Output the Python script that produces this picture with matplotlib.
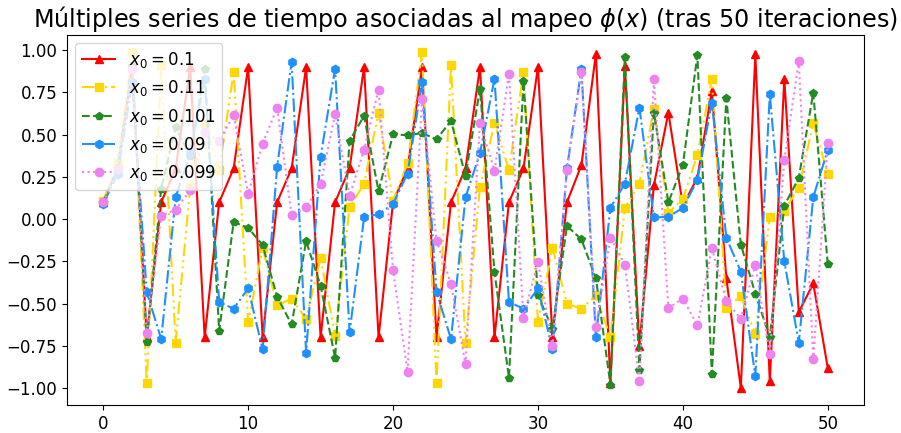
import numpy as np
import matplotlib
matplotlib.use("Agg")
import matplotlib.pyplot as plt

#Iteration index
t = np.arange(51)

#Orbits of the map for each starting value
serie_01 = [0.1, 0.3, 0.9, -0.7, 0.1, 0.3, 0.9, -0.7, 0.1, 0.3, 0.9, -0.7,
            0.1, 0.3, 0.9, -0.7, 0.1, 0.3, 0.9, -0.7, 0.1, 0.3, 0.9, -0.7,
            0.1, 0.3, 0.9, -0.7, 0.1, 0.3, 0.9, -0.7, 0.1, 0.32, 0.98, -0.97,
            0.905, -0.75, 0.2, 0.63, 0.08, 0.245, 0.76, -0.35, -1.0, 0.975,
            -0.96, 0.83, -0.55, -0.38, -0.88]
serie_011 = [0.11, 0.33, 0.99, -0.97, 0.91, -0.73, 0.19, 0.57, 0.29, 0.87,
             -0.61, -0.17, -0.51, -0.47, -0.59, -0.23, -0.69, 0.07, 0.21, 0.63,
             0.11, 0.33, 0.99, -0.97, 0.91, -0.73, 0.19, 0.57, 0.29, 0.87,
             -0.61, -0.17, -0.5, -0.53, -0.45, -0.7, 0.067, 0.21, 0.65, 0.037,
             0.12, 0.38, 0.83, -0.525, -0.456, -0.68, 0.012, 0.051, 0.185,
             0.568, 0.268]
serie_0101 = [0.101, 0.303, 0.909, -0.727, 0.181, 0.543, 0.371, 0.887, -0.661,
              -0.017, -0.051, -0.153, -0.459, -0.623, -0.131, -0.393, -0.821,
              0.463, 0.611, 0.167, 0.501, 0.497, 0.509, 0.473, 0.581, 0.257,
              0.771, -0.313, -0.939, 0.817, -0.451, -0.647, -0.04, -0.12,
              -0.35, -0.98, 0.96, -0.89, 0.63, 0.1, 0.32, 0.97, -0.915, 0.714,
              -0.15, -0.44, -0.7, 0.079, 0.245, 0.748, -0.268]
serie_009 = [0.09, 0.27, 0.81, -0.43, -0.71, 0.13, 0.39, 0.83, -0.49, -0.53,
             -0.41, -0.77, 0.31, 0.93, -0.79, 0.37, 0.89, -0.67, 0.01, 0.03,
             0.09, 0.27, 0.81, -0.43, -0.71, 0.13, 0.39, 0.83, -0.49, -0.53,
             -0.41, -0.77, 0.3, 0.89, -0.7, 0.067, 0.21, 0.66, 0.01, 0.014,
             0.067, 0.23, 0.69, -0.11, -0.31, -0.93, 0.74, -0.25, -0.73, 0.13,
             0.41]
serie_0099 = [0.099, 0.297, 0.891, -0.673, 0.019, 0.057, 0.171, 0.513, 0.461,
              0.617, 0.149, 0.447, 0.659, 0.023, 0.069, 0.207, 0.621, 0.137,
              0.411, 0.767, -0.301, -0.903, 0.709, -0.127, -0.381, -0.857,
              0.571, 0.287, 0.861, -0.583, -0.251, -0.753, 0.29, 0.87, -0.64,
              -0.11, -0.27, -0.96, 0.83, -0.525, -0.47, -0.627, -0.17, -0.485,
              -0.59, -0.27, -0.8, 0.35, 0.935, -0.83, 0.45]

etiquetas = ["$x_0 = 0.1$", "$x_0 = 0.11$", "$x_0 = 0.101$", "$x_0 = 0.09$", "$x_0 = 0.099$"]

fig = plt.figure(figsize=(9.01, 4.33), dpi=100)
ax = fig.add_axes([67/901, 1 - 405/433, 797/901, 370/433])

ax.plot(t, serie_01, color='red', marker='^', linestyle='-', label=etiquetas[0])
ax.plot(t, serie_011, color='gold', marker='s', linestyle=(0, (6, 2, 1, 2, 1, 2)), label=etiquetas[1])
ax.plot(t, serie_0101, color='forestgreen', marker='p', linestyle='--', label=etiquetas[2])
ax.plot(t, serie_009, color='dodgerblue', marker='h', linestyle='-.', label=etiquetas[3])
ax.plot(t, serie_0099, color='violet', marker='o', linestyle=':', label=etiquetas[4])

ax.set_title(r"Múltiples series de tiempo asociadas al mapeo $\phi(x)$ (tras 50 iteraciones)", fontsize=17.2)
ax.tick_params(labelsize=12)
ax.legend(loc='upper left', fontsize=12)

fig.savefig("out.png", dpi=100)
